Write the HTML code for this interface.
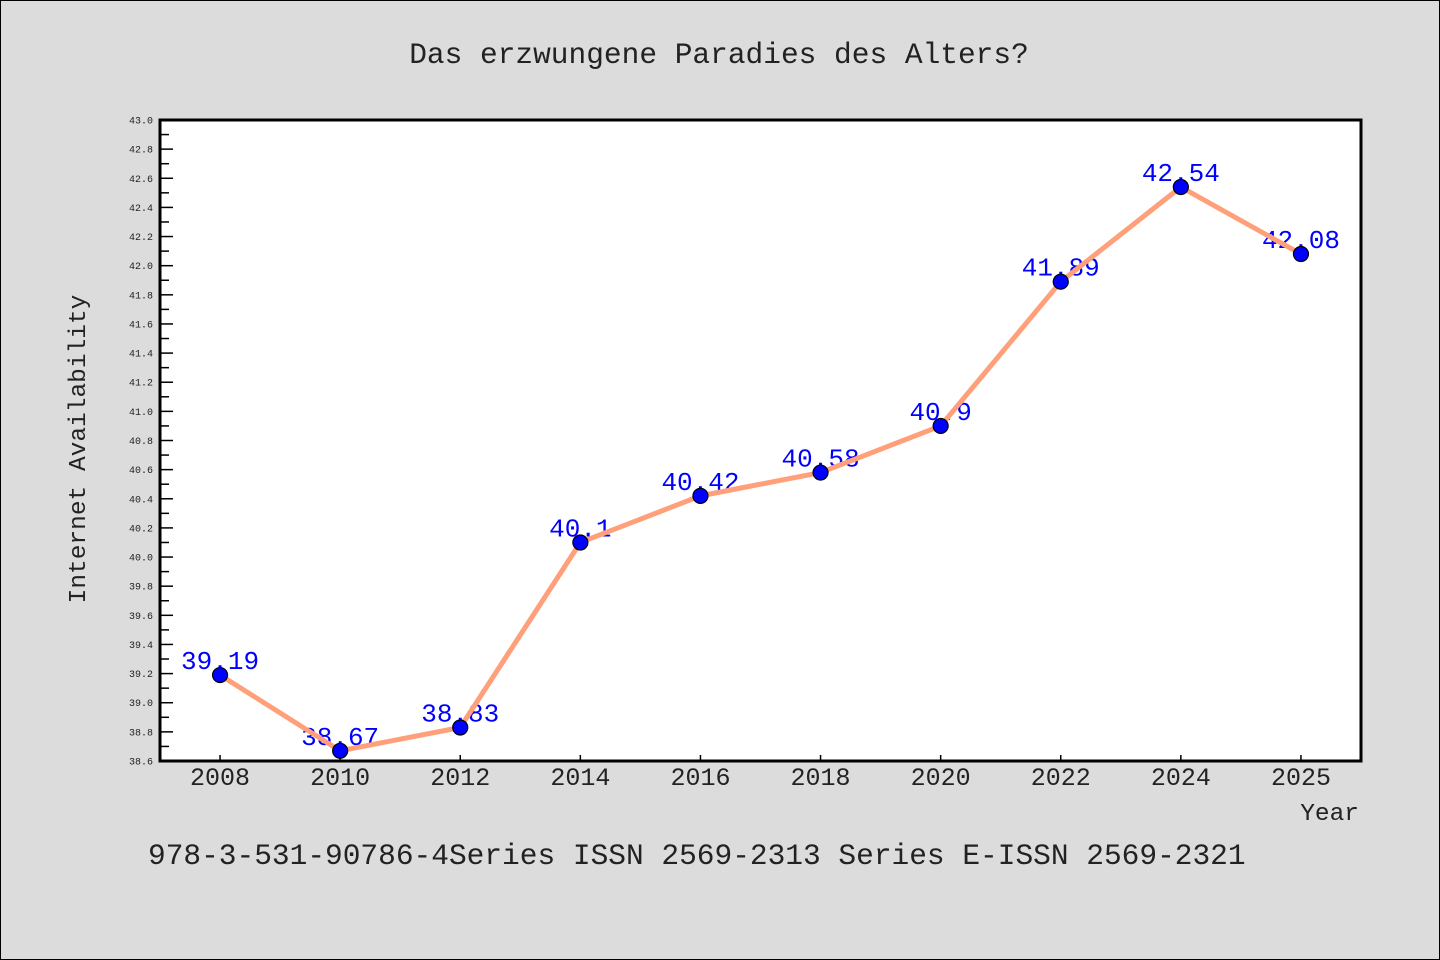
<!DOCTYPE html>
<html><head><meta charset="utf-8"><style>
html,body{margin:0;padding:0;background:#dcdcdc}
svg{display:block;font-family:"Liberation Mono",monospace}
</style></head><body>
<svg id="chart" width="1440" height="960" viewBox="0 0 1440 960">
<rect x="0.5" y="0.5" width="1439" height="959" fill="#dcdcdc" stroke="#000"/>
<text x="719" y="63" text-anchor="middle" font-size="29.5" fill="#222">Das erzwungene Paradies des Alters?</text>
<rect x="160" y="120" width="1201" height="641" fill="#fff"/>
<g id="yaxis"></g>
<g id="xaxis"></g>
<g id="labels"></g>
<g id="series"></g>
<rect x="160" y="120" width="1201" height="641" fill="none" stroke="#000" stroke-width="3"/>
<text transform="translate(85,449) rotate(-90)" text-anchor="middle" font-size="24.5" fill="#222">Internet Availability</text>
<text x="1359" y="820" text-anchor="end" font-size="24.5" fill="#222">Year</text>
<text x="148" y="864" font-size="29.5" fill="#222">978-3-531-90786-4Series ISSN 2569-2313 Series E-ISSN 2569-2321</text>
</svg>
<script>
const categories=["2008","2010","2012","2014","2016","2018","2020","2022","2024","2025"];
const values=[39.19,38.67,38.83,40.1,40.42,40.58,40.9,41.89,42.54,42.08];
const valueLabels=["39.19","38.67","38.83","40.1","40.42","40.58","40.9","41.89","42.54","42.08"];
const yMin=38.6,yMax=43.0;
const NS="http://www.w3.org/2000/svg";
const L=160,R=1361,T=120,B=761;
const step=(R-L)/categories.length;
function xs(i){return L+step*(i+0.5);}
function ys(v){return B-(v-yMin)/(yMax-yMin)*(B-T);}
function mk(tag,attrs,parent){const e=document.createElementNS(NS,tag);for(const k in attrs)e.setAttribute(k,attrs[k]);parent.appendChild(e);return e;}
const ya=document.getElementById('yaxis'),xa=document.getElementById('xaxis'),lb=document.getElementById('labels'),se=document.getElementById('series');
for(let k=0;k<=44;k++){
  const v=yMin+k*0.1,y=ys(v),major=k%2===0;
  const t=mk('line',{x1:L,x2:L+(major?13:9),y1:y,y2:y,stroke:'#000','stroke-width':1.5},ya);
  
  
  if(major){const tx=mk('text',{x:153,y:y+3.5,'text-anchor':'end','font-size':10,fill:'#222'},ya);tx.textContent=v.toFixed(1);
  
  }
}
categories.forEach((c,i)=>{
  const x=xs(i);
  const t=mk('line',{x1:x,x2:x,y1:B,y2:B-6,stroke:'#000','stroke-width':1.5},xa);
  
  
  const tx=mk('text',{x:x,y:785,'text-anchor':'middle','font-size':25,fill:'#222'},xa);tx.textContent=c;
  
  
});
values.forEach((v,i)=>{
  const tx=mk('text',{x:xs(i),y:ys(v)-6,'text-anchor':'middle','font-size':26,fill:'#0000ff'},lb);tx.textContent=valueLabels[i];
  
  
});
const pl=mk('polyline',{points:values.map((v,i)=>xs(i)+','+ys(v)).join(' '),fill:'none',stroke:'#ffa07a','stroke-width':5,'stroke-linejoin':'round'},se);


values.forEach((v,i)=>{
  const c=mk('circle',{cx:xs(i),cy:ys(v),r:7.5,fill:'#0000ff',stroke:'#000','stroke-width':1.2},se);
  
  
});
</script>
</body></html>
